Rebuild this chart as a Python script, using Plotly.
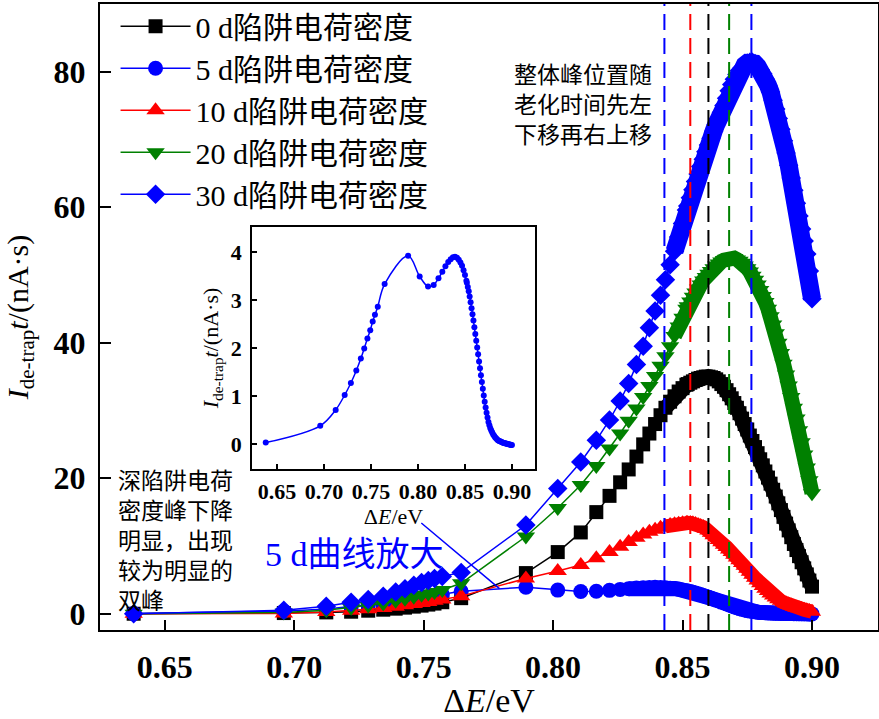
import plotly.graph_objects as go

# ---------------- data ----------------
dE = [0.638, 0.696, 0.7124, 0.722, 0.7286, 0.7344, 0.7392, 0.7428, 0.7462, 0.7492,
      0.7518, 0.7542, 0.7572, 0.7645, 0.7895, 0.8018, 0.8107, 0.8167, 0.8218, 0.8259,
      0.8292, 0.8322, 0.8348, 0.8372, 0.8394, 0.8415, 0.8434, 0.8452, 0.8469, 0.8485,
      0.8500, 0.8515,
      0.852, 0.853, 0.854, 0.855, 0.856, 0.857, 0.858, 0.859, 0.860, 0.861,
      0.862, 0.863, 0.864, 0.865, 0.866, 0.867, 0.868, 0.869, 0.870, 0.871,
      0.872, 0.873, 0.874, 0.875, 0.876, 0.877, 0.878, 0.879, 0.880, 0.881,
      0.882, 0.883, 0.884, 0.885, 0.886, 0.887, 0.888, 0.889, 0.890, 0.891,
      0.892, 0.893, 0.894, 0.895, 0.896, 0.897, 0.898, 0.899, 0.900]

d0 = [0.0, 0.1, 0.2, 0.3, 0.45, 0.6, 0.75, 0.9, 1.05, 1.2,
      1.35, 1.5, 1.7, 2.3, 6.0, 9.1, 12.0, 15.0, 17.4, 19.4,
      21.3, 23.2, 25.0, 26.6, 28.0, 29.3, 30.4, 31.3, 32.1, 32.8,
      33.3, 33.8,
      33.9, 34.1, 34.3, 34.5, 34.7, 34.8, 34.9, 35.0, 35.0, 34.9,
      34.8, 34.6, 34.3, 33.9, 33.5, 33.0, 32.4, 31.8, 31.1, 30.4,
      29.6, 28.8, 28.0, 27.2, 26.3, 25.5, 24.6, 23.7, 22.8, 21.9,
      21.0, 20.1, 19.2, 18.3, 17.3, 16.3, 15.3, 14.3, 13.3, 12.3,
      11.3, 10.3, 9.4, 8.5, 7.6, 6.7, 5.8, 4.9, 4.0]

d5 = [0.03, 0.38, 0.71, 1.02, 1.27, 1.53, 1.78, 1.99, 2.20, 2.37,
      2.55, 2.69, 2.86, 3.33, 3.92, 3.49, 3.28, 3.31, 3.45, 3.59,
      3.70, 3.79, 3.85, 3.89, 3.90, 3.88, 3.84, 3.78, 3.71, 3.62,
      3.52, 3.40,
      3.36, 3.27, 3.18, 3.07, 2.95, 2.83, 2.70, 2.57, 2.43, 2.29,
      2.15, 2.01, 1.87, 1.72, 1.58, 1.43, 1.29, 1.15, 1.01, 0.88,
      0.76, 0.65, 0.55, 0.46, 0.39, 0.33, 0.28, 0.24, 0.20, 0.17,
      0.14, 0.12, 0.10, 0.08, 0.07, 0.06, 0.05, 0.04, 0.03, 0.02,
      0.02, 0.01, 0.01, 0.0, 0.0, -0.01, -0.01, -0.02, -0.02]

d10 = [0.0, 0.05, 0.25, 0.45, 0.65, 0.85, 1.05, 1.25, 1.45, 1.6,
       1.75, 1.9, 2.1, 2.6, 5.2, 6.3, 7.2, 8.2, 9.1, 9.9,
       10.6, 11.2, 11.7, 12.1, 12.4, 12.7, 12.9, 13.1, 13.2, 13.3,
       13.35, 13.4,
       13.4, 13.4, 13.35, 13.25, 13.1, 12.95, 12.8, 12.55, 12.3, 11.95,
       11.6, 11.25, 10.9, 10.55, 10.2, 9.85, 9.5, 9.1, 8.7, 8.3,
       7.9, 7.5, 7.1, 6.65, 6.2, 5.75, 5.3, 4.9, 4.5, 4.1,
       3.7, 3.35, 3.0, 2.7, 2.4, 2.15, 1.9, 1.7, 1.5, 1.35,
       1.2, 1.05, 0.9, 0.8, 0.7, 0.6, 0.5, 0.4, 0.3]

d20 = [0.0, 0.2, 0.5, 0.9, 1.2, 1.5, 1.9, 2.2, 2.5, 2.8,
       3.0, 3.2, 3.5, 4.5, 11.4, 15.6, 19.0, 21.8, 24.4, 26.6,
       28.5, 30.3, 32.0, 33.6, 35.1, 36.6, 38.0, 39.5, 41.0, 42.4,
       43.7, 45.0,
       45.4, 46.1, 46.8, 47.4, 48.0, 48.6, 49.2, 49.7, 50.2, 50.6,
       51.0, 51.4, 51.7, 52.0, 52.2, 52.4, 52.5, 52.55, 52.5, 52.3,
       52.1, 51.8, 51.4, 51.0, 50.5, 49.9, 49.3, 48.6, 47.8, 46.9,
       46.0, 45.0, 43.9, 42.7, 41.4, 40.0, 38.5, 36.9, 35.3, 33.7,
       32.0, 30.4, 28.8, 27.1, 25.3, 23.5, 21.6, 19.7, 17.8]

d30 = [0.0, 0.5, 1.1, 1.7, 2.1, 2.6, 3.2, 3.7, 4.2, 4.6,
       4.9, 5.2, 5.5, 6.1, 13.1, 18.5, 22.4, 25.6, 28.6, 31.4,
       34.0, 36.8, 39.5, 42.2, 44.7, 47.0, 49.3, 51.5, 53.5, 55.6,
       57.6, 59.6,
       60.2, 61.4, 62.6, 63.8, 64.9, 66.0, 67.1, 68.2, 69.2, 70.2,
       71.2, 72.2, 73.1, 74.0, 75.0, 76.1, 77.2, 78.1, 78.9, 79.6,
       80.2, 80.6, 81.0, 81.3, 81.4, 81.4, 81.2, 80.8, 80.3, 79.7,
       78.9, 78.0, 77.0, 75.8, 74.5, 73.1, 71.5, 69.8, 68.0, 66.2,
       64.3, 62.5, 60.6, 58.7, 56.8, 55.0, 53.1, 50.6, 46.5]

series_names = ["0 d陷阱电荷密度", "5 d陷阱电荷密度", "10 d陷阱电荷密度",
                "20 d陷阱电荷密度", "30 d陷阱电荷密度"]
series_vals = [d0, d5, d10, d20, d30]
series_colors = ["#000000", "#0000ff", "#ff0000", "#008000", "#0000ff"]
series_symbols = ["square", "circle", "triangle-up", "triangle-down", "diamond"]
series_sizes = [14, 15, 16, 16, 15]
# width of the continuous band formed by the densely packed markers
band_widths = [15, 15, 14, 15, 18]
band_start = [26, 20, 26, 28, 28]   # index where markers start to merge

peak_positions = [0.843, 0.853, 0.860, 0.868, 0.8766]
peak_colors = ["#0000ff", "#ff0000", "#000000", "#008000", "#0000ff"]

x_ticks = [0.65, 0.70, 0.75, 0.80, 0.85, 0.90]
y_ticks = [0, 20, 40, 60, 80]
inset_y_ticks = [0, 1, 2, 3, 4]

SERIF = "Liberation Serif, 'Noto Sans CJK SC', serif"
CJK = "'Noto Sans CJK SC', sans-serif"

fig = go.Figure()

for name, vals, col, sym, sz, bw, bs in zip(series_names, series_vals, series_colors,
                                            series_symbols, series_sizes,
                                            band_widths, band_start):
    fig.add_trace(go.Scatter(
        x=dE[bs:], y=vals[bs:], mode="lines", showlegend=False, hoverinfo="skip",
        line=dict(color=col, width=bw), xaxis="x", yaxis="y"))
    fig.add_trace(go.Scatter(
        x=dE, y=vals, name=name, mode="lines+markers",
        line=dict(color=col, width=1.5),
        marker=dict(symbol=sym, size=sz, color=col, line=dict(width=0)),
        xaxis="x", yaxis="y"))

# inset: magnified 5 d curve
fig.add_trace(go.Scatter(
    x=dE, y=d5, mode="lines+markers", showlegend=False,
    line=dict(color="#0000ff", width=1.5, shape="spline"),
    marker=dict(symbol="circle", size=6, color="#0000ff"),
    xaxis="x2", yaxis="y2"))

shapes = []
for xp, c in zip(peak_positions, peak_colors):
    shapes.append(dict(type="line", xref="x", yref="y domain", x0=xp, x1=xp,
                       y0=0, y1=1, line=dict(color=c, width=2, dash="16px,8px")))
# callout line
shapes.append(dict(type="line", xref="x", yref="y", x0=0.7491, y0=13.4,
                   x1=0.7793, y1=3.7, line=dict(color="#0000ff", width=1.5)))

annotations = [
    dict(text="整体峰位置随<br>老化时间先左<br>下移再右上移", xref="paper", yref="paper",
         x=0.529, y=0.92, xanchor="left", yanchor="top", showarrow=False,
         align="left", font=dict(family=CJK, size=23, color="black")),
    dict(text="深陷阱电荷<br>密度峰下降<br>明显，出现<br>较为明显的<br>双峰", xref="paper",
         yref="paper", x=0.021, y=0.272, xanchor="left", yanchor="top",
         showarrow=False, align="left",
         font=dict(family=CJK, size=23, color="black")),
    dict(text="5 d曲线放大", xref="paper", yref="paper", x=0.21, y=0.12,
         xanchor="left", yanchor="middle", showarrow=False,
         font=dict(family=SERIF, size=34, color="#0000ff")),
]

axis_common = dict(showline=True, linecolor="black", mirror=True, ticks="inside",
                   tickcolor="black", showgrid=False, zeroline=False)

fig.update_layout(
    width=879, height=719,
    margin=dict(l=100, r=1, t=4, b=89, autoexpand=False),
    paper_bgcolor="white", plot_bgcolor="white",
    xaxis=dict(**axis_common, range=[0.625, 0.9255], tickvals=x_ticks,
               tickformat=".2f", linewidth=2, ticklen=10, tickwidth=2,
               tickfont=dict(family=SERIF, size=32, color="black", weight="bold"),
               ticklabelstandoff=8,
               title=dict(text="Δ<i>E</i>/eV", standoff=12,
                          font=dict(family=SERIF, size=34, color="black"))),
    yaxis=dict(**axis_common, range=[-2.4, 90], tickvals=y_ticks,
               linewidth=2, ticklen=11, tickwidth=2,
               tickfont=dict(family=SERIF, size=32, color="black", weight="bold"),
               ticklabelstandoff=6,
               title=dict(text="<i>I</i><sub>de-trap</sub><i>t</i>/(nA·s)", standoff=16,
                          font=dict(family=SERIF, size=30, color="black"))),
    xaxis2=dict(**axis_common, domain=[0.1954, 0.5591], anchor="y2",
                range=[0.6234, 0.9245], tickvals=x_ticks, tickformat=".2f",
                linewidth=1.5, ticklen=5, tickwidth=1.5,
                tickfont=dict(family=SERIF, size=22, color="black", weight="bold"),
                ticklabelstandoff=2,
                title=dict(text="Δ<i>E</i>/eV", standoff=0,
                           font=dict(family=SERIF, size=22, color="black"))),
    yaxis2=dict(**axis_common, domain=[0.2572, 0.6438], anchor="x2",
                range=[-0.52, 4.52], tickvals=inset_y_ticks,
                linewidth=1.5, ticklen=5, tickwidth=1.5,
                tickfont=dict(family=SERIF, size=22, color="black", weight="bold"),
                ticklabelstandoff=4,
                title=dict(text="<i>I</i><sub>de-trap</sub><i>t</i>/(nA·s)", standoff=6,
                           font=dict(family=SERIF, size=22, color="black"))),
    legend=dict(x=0.02, y=1.006, xanchor="left", yanchor="top",
                bgcolor="rgba(0,0,0,0)", itemwidth=70, tracegroupgap=0,
                font=dict(family=SERIF, size=30, color="black")),
    shapes=shapes, annotations=annotations,
)

fig.write_html("out.html")
